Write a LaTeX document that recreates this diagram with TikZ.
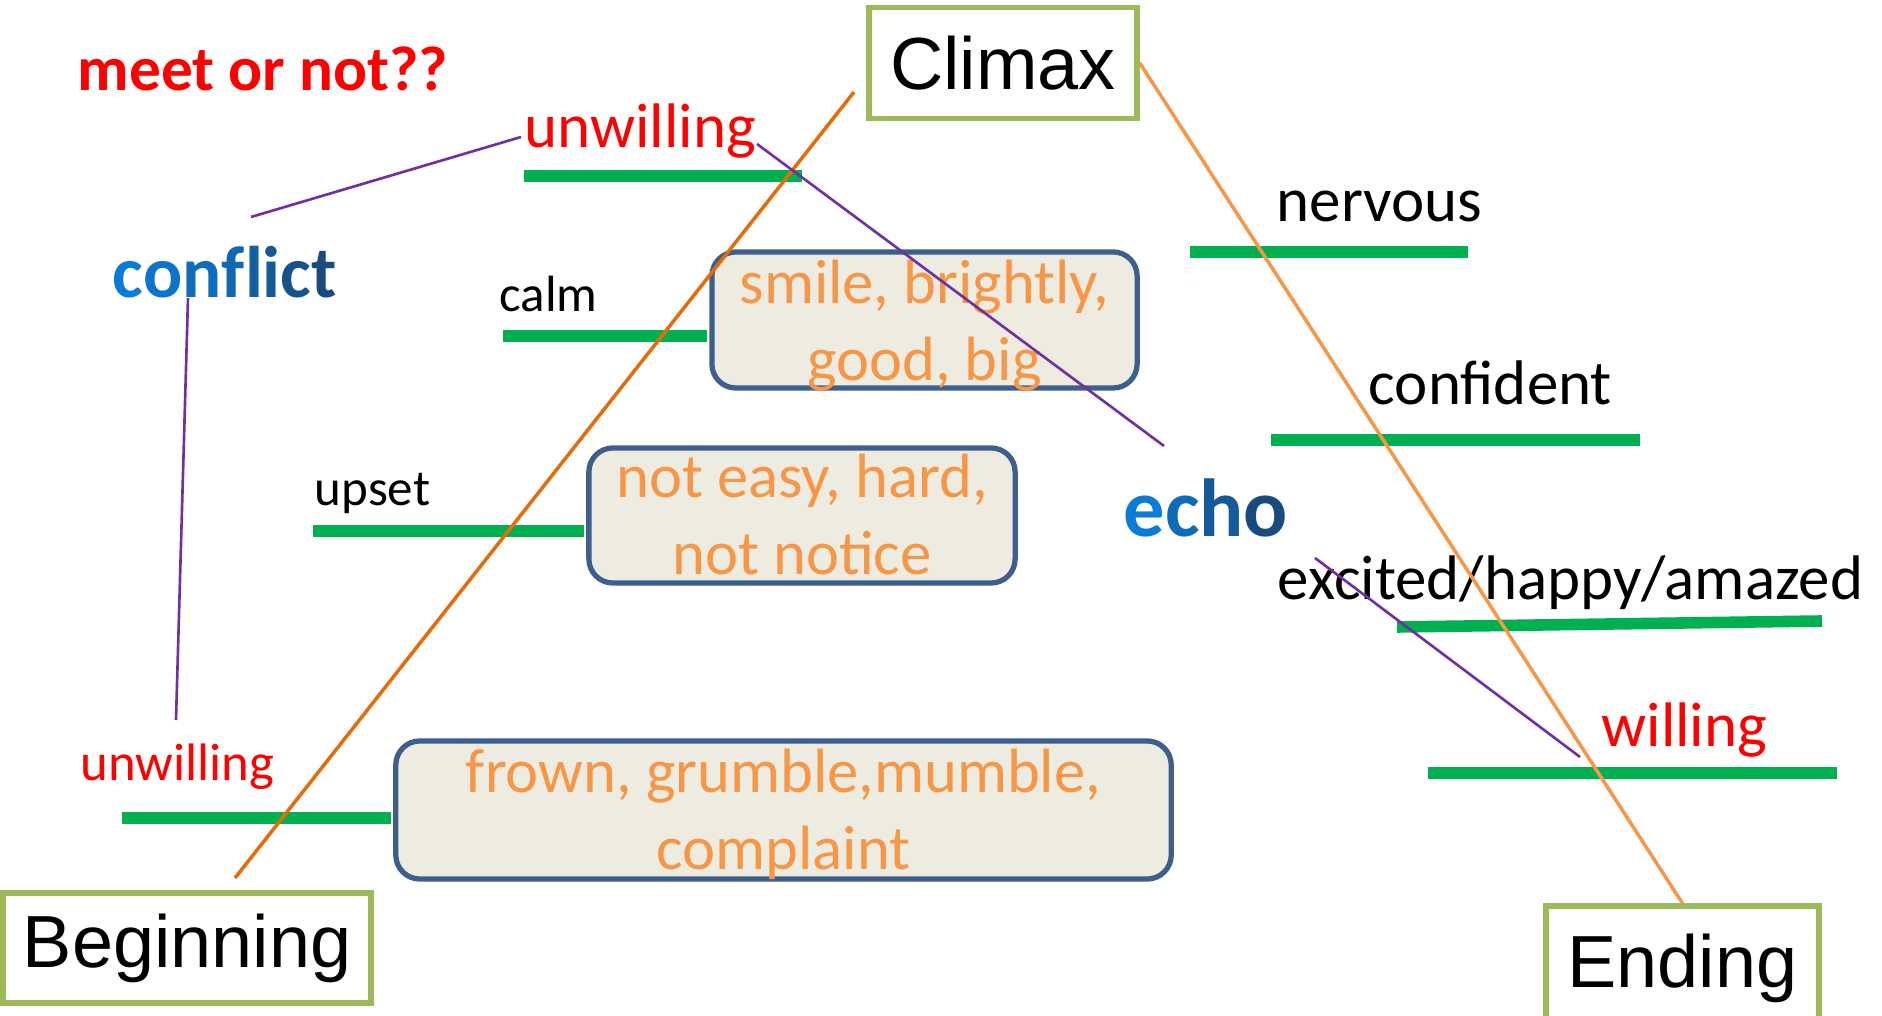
\documentclass[tikz,border=0pt]{standalone}
\usepackage{fontspec}
\setmainfont{Carlito}
\newfontfamily\arialf{Liberation Sans}
\definecolor{barg}{HTML}{00B050}
\definecolor{boxg}{HTML}{9BBB59}
\definecolor{orgD}{HTML}{E46C0A}
\definecolor{orgL}{HTML}{F79646}
\definecolor{purp}{HTML}{7030A0}
\definecolor{bxfill}{HTML}{EEECE1}
\definecolor{bxdraw}{HTML}{3D5F8E}
\definecolor{redt}{HTML}{FF0000}
\definecolor{txtor}{HTML}{F79646}
\definecolor{gS}{HTML}{0A7CD6}
\definecolor{gE}{HTML}{1A4B7E}
\tikzset{
  bar/.style={barg, line width=3.3pt},
  stage/.style={draw=boxg, line width=1.5pt, fill=white, inner sep=0pt,
    font=\arialf\fontsize{21}{25}\selectfont},
  wordbox/.style={draw=bxdraw, line width=1.5pt, fill=bxfill, rounded corners=0.24cm, inner sep=0pt},
  boxtxt/.style={text=txtor, anchor=base, inner sep=0pt, font=\fontsize{17.8}{21}\selectfont},
  lbl/.style={anchor=base west, inner sep=0pt, font=\fontsize{17.9}{21}\selectfont},
  smalllbl/.style={anchor=base west, inner sep=0pt, font=\fontsize{14.5}{17}\selectfont},
  arcL/.style={orgD, line width=1pt},
  arcR/.style={orgL, line width=1pt},
  link/.style={purp, line width=0.75pt},
}
\begin{document}
\begin{tikzpicture}[x=0.01cm, y=-0.01cm]
\useasboundingbox (0,0) rectangle (1882,1016);

% coordinates for free ends
\coordinate (b1L) at (524,176);  \coordinate (b1R) at (802,176);
\coordinate (b2L) at (503,336);
\coordinate (b3L) at (313,531);
\coordinate (b4L) at (122,818);
\coordinate (b5L) at (1190,252); \coordinate (b5R) at (1468,252);
\coordinate (b6L) at (1271,440); \coordinate (b6R) at (1640,440);
\coordinate (b7L) at (1397,627); \coordinate (b7R) at (1822,621);
\coordinate (b8L) at (1428,773); \coordinate (b8R) at (1837,773);

% stage boxes
\node[stage, minimum width=2.68cm, minimum height=1.11cm] (climax) at (1003,63) {Climax};
\node[stage, minimum width=3.68cm, minimum height=1.10cm] (beginning) at (187,948) {Beginning};
\node[stage, minimum width=2.73cm, minimum height=1.24cm] (ending) at (1682.5,968) {Ending};

% green bars
\draw[bar] (b1L) -- (b1R);
\draw[bar] (b5L) -- (b5R);
\draw[bar] (b6L) -- (b6R);
\draw[bar] (b7L) -- (b7R);
\draw[bar] (b8L) -- (b8R);

% word boxes
\node[wordbox, minimum width=4.25cm, minimum height=1.36cm] (smile) at (924.5,320) {};
\node[wordbox, minimum width=4.26cm, minimum height=1.35cm] (noteasy) at (802,515.5) {};
\node[wordbox, minimum width=7.75cm, minimum height=1.38cm] (frown) at (783.5,810) {};

\draw[bar, shorten >=0.75pt] (b2L) -- (b2L -| smile.west);
\draw[bar, shorten >=0.75pt] (b3L) -- (b3L -| noteasy.west);
\draw[bar, shorten >=0.75pt] (b4L) -- (b4L -| frown.west);

\node[boxtxt] (t1a) at (924.5,304) {smile, brightly,};
\node[boxtxt] (t1b) at (924.5,381) {good, big};
\node[boxtxt] (t2a) at (802,498) {not easy, hard,};
\node[boxtxt] (t2b) at (802,575) {not notice};
\node[boxtxt] (t3a) at (783.5,792) {frown, grumble,mumble,};
\node[boxtxt] (t3b) at (783.5,869) {complaint};

% labels
\node[anchor=base west, inner sep=0pt, text=redt, font=\bfseries\fontsize{18}{21}\selectfont] (meet) at (77,91) {meet or not??};
\node[lbl, text=redt] (unwA) at (524,148) {unwilling};
\node[anchor=base west, inner sep=0pt, font=\bfseries\fontsize{20.8}{24}\selectfont] (conflict) at (112,298)
  {\textcolor{gS!100!gE}{c}\textcolor{gS!86!gE}{o}\textcolor{gS!71!gE}{n}\textcolor{gS!57!gE}{f}\textcolor{gS!43!gE}{l}\textcolor{gS!29!gE}{i}\textcolor{gS!14!gE}{c}\textcolor{gS!0!gE}{t}};
\node[smalllbl] (calm) at (499,312) {calm};
\node[smalllbl] (upset) at (314,506) {upset};
\node[anchor=base west, inner sep=0pt, text=redt, font=\fontsize{15}{18}\selectfont] (unwB) at (80,780) {unwilling};
\node[lbl] (nervous) at (1276,222) {nervous};
\node[lbl] (confident) at (1368,405) {confident};
\node[anchor=base west, inner sep=0pt, font=\bfseries\fontsize{23.4}{28}\selectfont] (echo) at (1123,537)
  {\textcolor{gS!100!gE}{e}\textcolor{gS!67!gE}{c}\textcolor{gS!33!gE}{h}\textcolor{gS!0!gE}{o}};
\node[lbl] (excited) at (1277,600) {excited/happy/amazed};
\node[lbl, text=redt] (willing) at (1601,746) {willing};

% orange arc lines
\coordinate (arcS) at (235,878);
\coordinate (arcT) at (854,92);
\draw[arcL] (arcS) -- (arcT);
\draw[arcR] (climax.east) -- (ending.north);

% purple links
\coordinate (pa1) at (251,217); \coordinate (pa2) at (521,137);
\coordinate (pb1) at (188,298); \coordinate (pb2) at (176,720);
\coordinate (pc1) at (757,144); \coordinate (pc2) at (1164,446);
\coordinate (pd1) at (1315,558); \coordinate (pd2) at (1580,757);
\draw[link] (pa1) -- (pa2);
\draw[link] (pb1) -- (pb2);
\draw[link] (pc1) -- (pc2);
\draw[link] (pd1) -- (pd2);
\end{tikzpicture}
\end{document}
